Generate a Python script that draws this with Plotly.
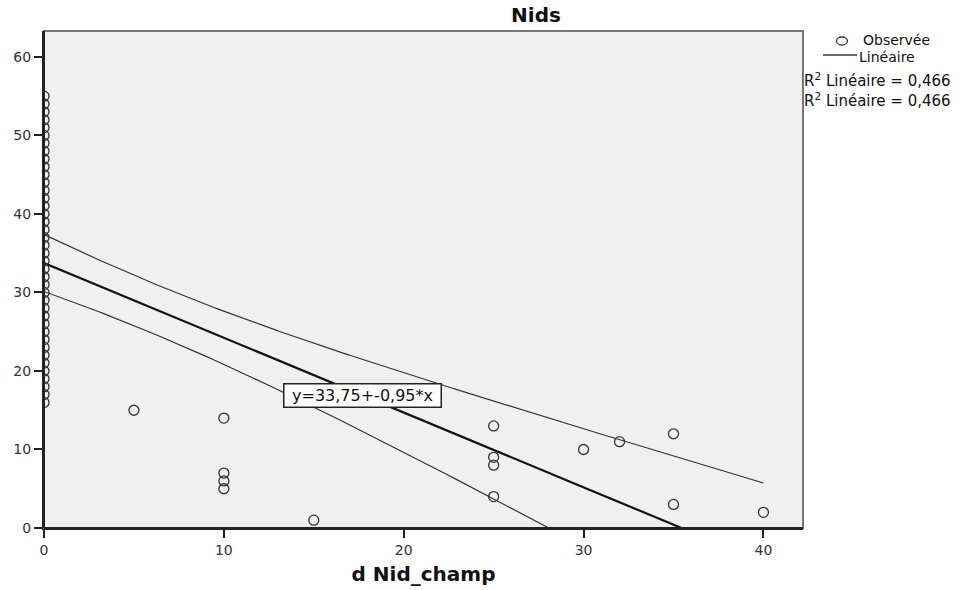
import numpy as np
import plotly.graph_objects as go

# ---- data ----
x_zero_count = 40
y_at_zero = list(range(16, 56))           # column of points at d = 0
x_other = [5, 10, 10, 10, 10, 15, 25, 25, 25, 25, 30, 32, 35, 35, 40]
y_other = [15, 14, 7, 6, 5, 1, 13, 9, 8, 4, 10, 11, 12, 3, 2]

x_obs = np.array([0] * x_zero_count + x_other, dtype=float)
y_obs = np.array(y_at_zero + y_other, dtype=float)

title_text = "Nids"
x_title = "d Nid_champ"
x_ticks = [0, 10, 20, 30, 40]
y_ticks = [0, 10, 20, 30, 40, 50, 60]
t_975 = 2.0057  # Student t, 53 df

# ---- linear fit with 95% mean confidence band ----
n = len(x_obs)
xm, ym = x_obs.mean(), y_obs.mean()
sxx = ((x_obs - xm) ** 2).sum()
sxy = ((x_obs - xm) * (y_obs - ym)).sum()
syy = ((y_obs - ym) ** 2).sum()
b = sxy / sxx
a = ym - b * xm
r2 = sxy ** 2 / (sxx * syy)
s = np.sqrt((syy - b * sxy) / (n - 2))

xf = np.linspace(x_obs.min(), x_obs.max(), 200)
yf = a + b * xf
se = s * np.sqrt(1.0 / n + (xf - xm) ** 2 / sxx)
y_up = yf + t_975 * se
y_lo = yf - t_975 * se

eq_text = f"y={a:.2f}+{b:.2f}*x".replace(".", ",")
r2_text = f"R<sup>2</sup> Linéaire = {r2:.3f}".replace(".", ",")

# ---- layout geometry ----
W, H = 967, 590
L, R, T, B = 44, 803, 31, 528
def px(p):
    return (p - L) / (R - L)
def py(p):
    return (B - p) / (B - T)

FONT = "DejaVu Sans"
ink = "#222222"

fig = go.Figure()
fig.add_trace(go.Scatter(x=xf, y=y_up, mode="lines",
                         line=dict(color="#333333", width=1.2),
                         showlegend=False, hoverinfo="skip"))
fig.add_trace(go.Scatter(x=xf, y=y_lo, mode="lines",
                         line=dict(color="#333333", width=1.2),
                         showlegend=False, hoverinfo="skip"))
fig.add_trace(go.Scatter(x=xf, y=yf, mode="lines",
                         line=dict(color="#111111", width=2.2),
                         showlegend=False, name="Linéaire"))
fig.add_trace(go.Scatter(x=x_obs, y=y_obs, mode="markers",
                         marker=dict(symbol="circle-open", size=10,
                                     color="#333333", line=dict(width=1.3, color="#333333")),
                         showlegend=False, name="Observée", cliponaxis=True))

axis_common = dict(showgrid=False, zeroline=False, showline=True,
                   linecolor=ink, linewidth=2, ticks="outside", ticklen=8,
                   tickwidth=1.5, tickcolor=ink,
                   tickfont=dict(family=FONT, size=14, color="#333333"))

fig.update_layout(
    width=W, height=H,
    margin=dict(l=L, r=W - R, t=T, b=H - B, autoexpand=False),
    paper_bgcolor="white", plot_bgcolor="#f0f0f0",
    showlegend=False,
    title=dict(text=f"<b>{title_text}</b>", x=536 / W, xanchor="center",
               xref="container", yref="container", y=1 - 15 / H, yanchor="middle",
               font=dict(family=FONT, size=20, color="#111111")),
    xaxis=dict(range=[0, 42.2], tickvals=x_ticks, **axis_common,
               title=dict(text=f"<b>{x_title}</b>", standoff=10,
                          font=dict(family=FONT, size=20, color="#111111"))),
    yaxis=dict(range=[0, 63.3], tickvals=y_ticks, **axis_common),
)

# plot frame
fig.add_shape(type="rect", xref="paper", yref="paper", x0=0, x1=1, y0=0, y1=1,
              line=dict(color="#777777", width=2), layer="above")
fig.add_shape(type="line", xref="paper", yref="paper", x0=0, x1=0, y0=0, y1=1,
              line=dict(color=ink, width=2), layer="above")
fig.add_shape(type="line", xref="paper", yref="paper", x0=0, x1=1, y0=0, y1=0,
              line=dict(color=ink, width=2), layer="above")

# equation label
fig.add_annotation(x=17.69, y=16.9, xref="x", yref="y", text=eq_text,
                   showarrow=False, font=dict(family=FONT, size=16, color="#111111"),
                   bgcolor="white", bordercolor=ink, borderwidth=1.5, borderpad=2,
                   width=152, height=18)

# manual legend
fig.add_shape(type="circle", xref="paper", yref="paper",
              xsizemode="pixel", ysizemode="pixel",
              xanchor=px(842), yanchor=py(41), x0=-5.5, x1=5.5, y0=-4, y1=4,
              line=dict(color="#333333", width=1.3))
fig.add_shape(type="line", xref="paper", yref="paper",
              x0=px(823), x1=px(857), y0=py(55), y1=py(55),
              line=dict(color="#333333", width=1.5))
leg_font = dict(family=FONT, size=14, color="#111111")
fig.add_annotation(x=px(861), y=py(40), xref="paper", yref="paper", text="Observée",
                   showarrow=False, xanchor="left", yanchor="middle", font=leg_font)
fig.add_annotation(x=px(857), y=py(57), xref="paper", yref="paper", text="Linéaire",
                   showarrow=False, xanchor="left", yanchor="middle", font=leg_font)
r2_font = dict(family=FONT, size=15, color="#111111")
for yy in (80, 100):
    fig.add_annotation(x=px(802), y=py(yy), xref="paper", yref="paper", text=r2_text,
                       showarrow=False, xanchor="left", yanchor="middle", font=r2_font)

fig.write_html("out.html")
